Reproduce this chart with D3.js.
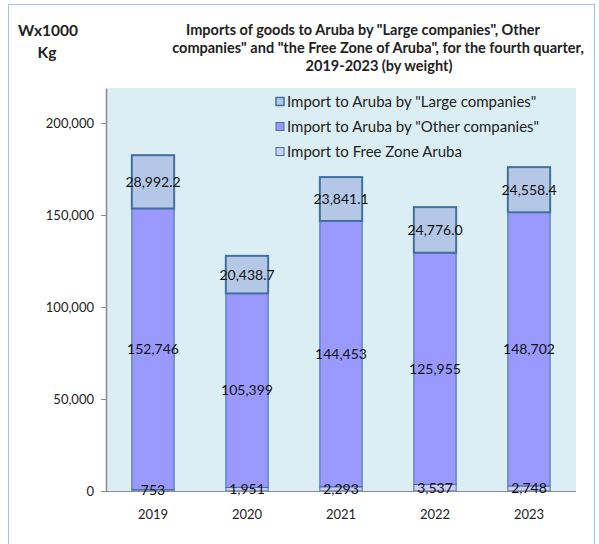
<!DOCTYPE html>
<html>
<head>
<meta charset="utf-8">
<script src="https://cdn.jsdelivr.net/npm/d3@7"></script>
<style>
  body { margin: 0; background: #fff; }
  svg { font-family: Lato, "Open Sans", sans-serif; }
</style>
</head>
<body>
<div id="chart"></div>
<script>
// data
const years = ["2019", "2020", "2021", "2022", "2023"];
const freeZone = [753, 1951, 2293, 3537, 2748];
const otherCompanies = [152746, 105399, 144453, 125955, 148702];
const largeCompanies = [28992.2, 20438.7, 23841.1, 24776.0, 24558.4];
const yTicks = [0, 50000, 100000, 150000, 200000];
const seriesNames = [
  'Import to Aruba by "Large companies"',
  'Import to Aruba by "Other companies"',
  "Import to Free Zone Aruba"
];

const width = 599;
const height = 544;
const margin = { top: 88, right: 23, bottom: 53, left: 106 };

const svg = d3.select("#chart")
  .append("svg")
  .attr("width", width)
  .attr("height", height);

// outer frame
svg.append("rect")
  .attr("x", 8.5).attr("y", 4.5)
  .attr("width", 586).attr("height", 560)
  .attr("fill", "#fff")
  .attr("stroke", "#9dc3e6");

const x = d3.scaleBand()
  .domain(years)
  .range([margin.left, width - margin.right])
  .paddingInner(0.55)
  .paddingOuter(0.275);

const y = d3.scaleLinear()
  .domain([0, 219000])
  .range([height - margin.bottom, margin.top]);

// plot area
svg.append("rect")
  .attr("x", margin.left)
  .attr("y", margin.top)
  .attr("width", width - margin.right - margin.left)
  .attr("height", height - margin.bottom - margin.top)
  .attr("fill", "#daeef3");

const rows = years.map((yr, i) => ({
  year: yr,
  free: freeZone[i],
  other: otherCompanies[i],
  large: largeCompanies[i]
}));

const stack = d3.stack().keys(["free", "other", "large"]);
const series = stack(rows);

const fills = { free: "#ccccff", other: "#9999ff", large: "#b4c7e7" };
const strokeW = { free: 1, other: 1, large: 2 };

series.forEach(s => {
  svg.append("g")
    .selectAll("rect")
    .data(s)
    .join("rect")
    .attr("x", d => x(d.data.year))
    .attr("width", x.bandwidth())
    .attr("y", d => y(d[1]))
    .attr("height", d => y(d[0]) - y(d[1]))
    .attr("fill", fills[s.key])
    .attr("stroke", "#41719c")
    .attr("stroke-width", strokeW[s.key]);
});

// axes
const yAxis = svg.append("g")
  .attr("transform", `translate(${margin.left},0)`)
  .call(d3.axisLeft(y).tickValues(yTicks).tickFormat(d3.format(",")).tickSize(5).tickSizeOuter(0));
yAxis.select(".domain").attr("stroke", "#8c8c8c").attr("stroke-width", 1.5);
yAxis.selectAll(".tick line").attr("stroke", "#8c8c8c");
yAxis.selectAll("text").attr("font-size", 13).attr("fill", "#222").attr("dx", -4)
  .attr("font-family", "Lato, sans-serif");

const xAxis = svg.append("g")
  .attr("transform", `translate(0,${height - margin.bottom})`)
  .call(d3.axisBottom(x).tickSize(0));
xAxis.select(".domain").attr("stroke", "#8c8c8c").attr("d", `M${margin.left},0.5H${width - margin.right}`);
xAxis.selectAll("text").attr("font-size", 13).attr("fill", "#222").attr("dy", "1.9em")
  .attr("font-family", "Lato, sans-serif");

// data labels
const fmt = {
  free: d3.format(","),
  other: d3.format(","),
  large: d3.format(",.1f")
};
series.forEach(s => {
  svg.append("g")
    .selectAll("text")
    .data(s)
    .join("text")
    .attr("x", d => x(d.data.year) + x.bandwidth() / 2)
    .attr("y", d => (y(d[0]) + y(d[1])) / 2)
    .attr("dy", "0.35em")
    .attr("text-anchor", "middle")
    .attr("font-size", 14)
    .attr("fill", "#111")
    .text(d => fmt[s.key](d.data[s.key]));
});

// legend
const legendKeys = ["large", "other", "free"];
const legendY = [102, 127, 152];
const legend = svg.append("g").attr("transform", "translate(276,0)");
legendKeys.forEach((k, i) => {
  const g = legend.append("g").attr("transform", `translate(0,${legendY[i]})`);
  g.append("rect")
    .attr("x", 0).attr("y", -4.5)
    .attr("width", 8).attr("height", 8)
    .attr("fill", fills[k])
    .attr("stroke", "#41719c")
    .attr("stroke-width", k === "large" ? 1.5 : 1);
  g.append("text")
    .attr("x", 11).attr("y", 0)
    .attr("dy", "0.35em")
    .attr("font-size", 15)
    .attr("fill", "#222")
    .text(seriesNames[i]);
});

// titles
const title = [
  'Imports of goods to Aruba by "Large companies", Other',
  'companies" and "the Free Zone of Aruba", for the fourth quarter,',
  "2019-2023 (by weight)"
];
const titleX = [363, 378, 379];
svg.append("g")
  .selectAll("text")
  .data(title)
  .join("text")
  .attr("x", (d, i) => titleX[i])
  .attr("y", (d, i) => 35 + i * 18)
  .attr("text-anchor", "middle")
  .attr("font-size", 14.5)
  .attr("font-weight", "bold")
  .attr("fill", "#222")
  .text(d => d);

svg.append("text")
  .attr("x", 48).attr("y", 36)
  .attr("text-anchor", "middle")
  .attr("font-size", 15.5)
  .attr("font-weight", "bold")
  .attr("fill", "#222")
  .text("Wx1000");
svg.append("text")
  .attr("x", 47).attr("y", 58)
  .attr("text-anchor", "middle")
  .attr("font-size", 15.5)
  .attr("font-weight", "bold")
  .attr("fill", "#222")
  .text("Kg");
</script>
</body>
</html>
